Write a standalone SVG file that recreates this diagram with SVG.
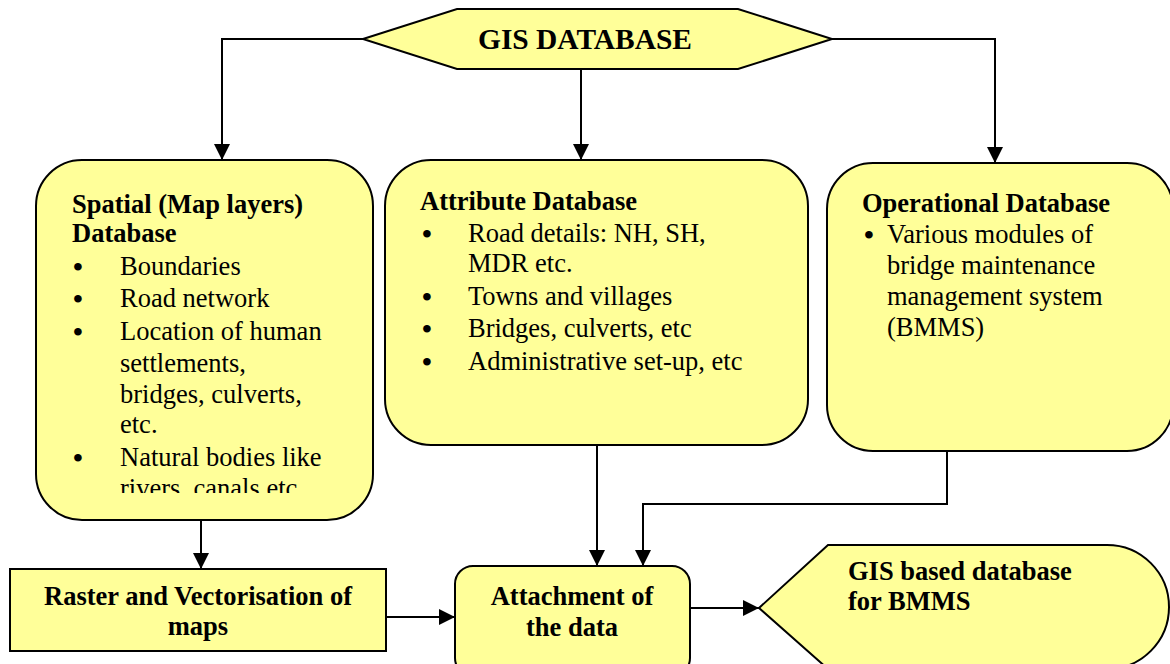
<svg xmlns="http://www.w3.org/2000/svg" width="1170" height="664" viewBox="0 0 1170 664">
<style>
.box{fill:#FFFF99;stroke:#000;stroke-width:2}
.t{font-family:"Liberation Serif","Times New Roman",serif;font-size:26.5px;fill:#000}
.b{font-weight:bold}
.c{text-anchor:middle}
.bu{font-family:"Liberation Serif","Times New Roman",serif;font-size:28px;font-weight:bold;fill:#000;text-anchor:middle}
.con{fill:none;stroke:#000;stroke-width:2}
</style>
<defs>
<marker id="ah" markerUnits="userSpaceOnUse" markerWidth="18" markerHeight="18" viewBox="0 0 18 18" refX="16" refY="9" orient="auto">
<path d="M0,1 L16,9 L0,17 Z" fill="#000"/>
</marker>
<clipPath id="clipLeft"><rect x="36" y="160" width="337" height="333"/></clipPath>
</defs>
<rect width="1170" height="664" fill="#fff"/>

<g id="connectors">
<polyline class="con" points="363,39 222,39 222,160" marker-end="url(#ah)"/>
<line class="con" x1="581" y1="70" x2="581" y2="160" marker-end="url(#ah)"/>
<polyline class="con" points="832,39 995,39 995,163" marker-end="url(#ah)"/>
<line class="con" x1="201" y1="520" x2="201" y2="569" marker-end="url(#ah)"/>
<line class="con" x1="597" y1="445" x2="597" y2="566" marker-end="url(#ah)"/>
<polyline class="con" points="947,451 947,504 643,504 643,566" marker-end="url(#ah)"/>
<line class="con" x1="386" y1="617" x2="455" y2="617" marker-end="url(#ah)"/>
<line class="con" x1="690" y1="608" x2="759" y2="608" marker-end="url(#ah)"/>
</g>

<g id="gis-database">
<polygon class="box" points="363,39 457,9 738,9 832,39 738,69 457,69"/>
<text class="t b" x="478" y="49" style="font-size:30px" textLength="214" lengthAdjust="spacingAndGlyphs">GIS DATABASE</text>
</g>

<g id="spatial-database">
<rect class="box" x="36" y="160" width="337" height="360" rx="46" ry="46"/>
<g clip-path="url(#clipLeft)">
<text class="t b" x="72" y="213">Spatial (Map layers)</text>
<text class="t b" x="72" y="242">Database</text>
<text class="bu" x="78" y="276">•</text><text class="t" x="120" y="275">Boundaries</text>
<text class="bu" x="78" y="308">•</text><text class="t" x="120" y="307">Road network</text>
<text class="bu" x="78" y="341">•</text><text class="t" x="120" y="340">Location of human</text>
<text class="t" x="120" y="372">settlements,</text>
<text class="t" x="120" y="403">bridges, culverts,</text>
<text class="t" x="120" y="433">etc.</text>
<text class="bu" x="78" y="467">•</text><text class="t" x="120" y="466">Natural bodies like</text>
<text class="t" x="120" y="497">rivers, canals etc.</text>
</g>
</g>

<g id="attribute-database">
<rect class="box" x="385" y="160" width="423" height="285" rx="46" ry="46"/>
<text class="t b" x="420" y="210">Attribute Database</text>
<text class="bu" x="427" y="243">•</text><text class="t" x="468" y="242">Road details: NH, SH,</text>
<text class="t" x="468" y="272">MDR etc.</text>
<text class="bu" x="427" y="306">•</text><text class="t" x="468" y="305">Towns and villages</text>
<text class="bu" x="427" y="338">•</text><text class="t" x="468" y="337">Bridges, culverts, etc</text>
<text class="bu" x="427" y="371">•</text><text class="t" x="468" y="370">Administrative set-up, etc</text>
</g>

<g id="operational-database">
<rect class="box" x="827" y="163" width="346" height="288" rx="46" ry="46"/>
<text class="t b" x="862" y="212">Operational Database</text>
<text class="bu" x="869" y="244">•</text><text class="t" x="887" y="243">Various modules of</text>
<text class="t" x="887" y="274">bridge maintenance</text>
<text class="t" x="887" y="305">management system</text>
<text class="t" x="887" y="336">(BMMS)</text>
</g>

<g id="raster-vectorisation">
<rect class="box" x="10" y="569" width="376" height="82"/>
<text class="t b c" x="198" y="605">Raster and Vectorisation of</text>
<text class="t b c" x="198" y="635">maps</text>
</g>

<g id="attachment">
<rect class="box" x="455" y="566" width="235" height="110" rx="18" ry="18"/>
<text class="t b c" x="572" y="605">Attachment of</text>
<text class="t b c" x="572" y="636">the data</text>
</g>

<g id="gis-based-database">
<path class="box" d="M759,608 L828,545 L1107,545 A62,62 0 0 1 1107,669 L828,669 Z"/>
<text class="t b" x="848" y="580">GIS based database</text>
<text class="t b" x="848" y="610">for BMMS</text>
</g>
</svg>
